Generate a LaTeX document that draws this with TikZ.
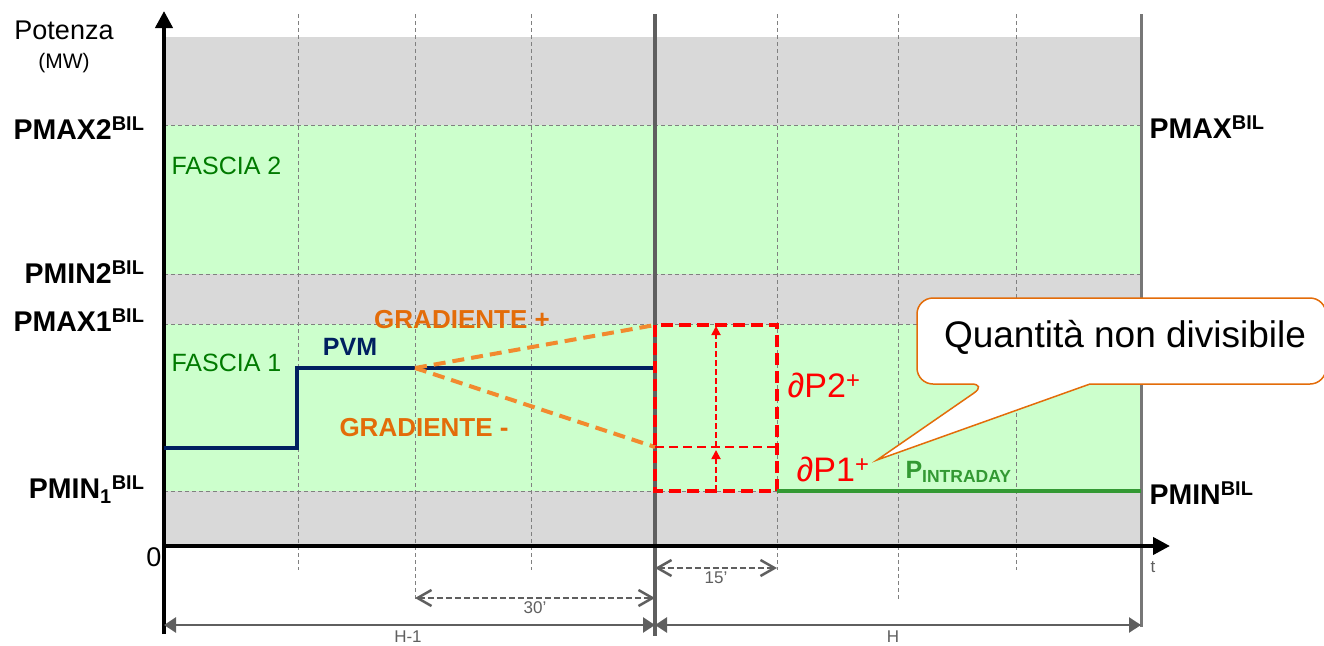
\documentclass[tikz,border=0pt]{standalone}
\usepackage{fontspec}
\setmainfont{Liberation Sans}
\usetikzlibrary{arrows.meta}
\definecolor{bandgray}{HTML}{D9D9D9}
\definecolor{bandgreen}{HTML}{CCFFCC}
\definecolor{pvmblue}{HTML}{002060}
\definecolor{gradorange}{HTML}{F28A2E}
\definecolor{gradtext}{HTML}{E36C09}
\definecolor{intraday}{HTML}{339933}
\definecolor{fasciagreen}{HTML}{007A00}
\definecolor{dimgray}{HTML}{5F5F5F}
\definecolor{quotared}{HTML}{FF0000}
\tikzset{
  gridline/.style={gray,line width=1pt,dash pattern=on 4pt off 3pt},
  hourline/.style={dimgray,line width=4pt},
  axis/.style={black,line width=4pt,-{Triangle[length=17pt,width=17pt]}},
  levlab/.style={font=\bfseries\fontsize{28.5}{30}\selectfont},
  fascialab/.style={fasciagreen,font=\fontsize{25}{27}\selectfont},
  gradlab/.style={gradtext,font=\bfseries\fontsize{26}{28}\selectfont},
  dimlab/.style={dimgray,font=\fontsize{17}{19}\selectfont},
  quotalab/.style={quotared,font=\fontsize{34}{36}\selectfont},
  pvm/.style={pvmblue,line width=4.5pt},
  gradient/.style={gradorange,line width=4pt,dash pattern=on 12pt off 7pt},
  quota/.style={quotared,line width=4pt,dash pattern=on 12pt off 6pt},
  quotathin/.style={quotared,line width=2.5pt,dash pattern=on 9pt off 5pt},
  quotaarrow/.style={quotared,line width=1.8pt,dash pattern=on 6pt off 3pt,-{Triangle[length=9pt,width=9pt]}},
  pint/.style={intraday,line width=4.5pt},
  dimdash/.style={dimgray,line width=2.5pt,dash pattern=on 6pt off 3pt,{Straight Barb[length=14pt,width=16pt]}-{Straight Barb[length=14pt,width=16pt]}},
  dimsolid/.style={dimgray,line width=2.5pt,{Triangle[length=12pt,width=15pt]}-{Triangle[length=12pt,width=15pt]}},
  callout/.style={draw=gradtext,fill=white,line width=1.5pt}
}
\begin{document}
\begin{tikzpicture}[x=1pt,y=-1pt]
\useasboundingbox (0,0) rectangle (1324,645);
% fasce
\fill[bandgray] (164,37) rectangle (1141,546);
\fill[bandgreen] (164,125) rectangle (1141,274);
\fill[bandgreen] (164,324) rectangle (1141,491);
% griglia
\foreach \y in {125,274,324,491}
  \draw[gridline] (164,\y) -- (1141,\y);
\foreach \x/\b in {298/570,415/600,531/570,777/570,898/600,1016/570}
  \draw[gridline] (\x,14) -- (\x,\b);
\draw[hourline] (655,14) -- (655,636);
\draw[hourline,line width=3pt,dimgray!85] (1141,14) -- (1141,627);
% assi
\draw[axis] (164,634) -- (164,11);
\draw[axis] (164,546) -- (1170,546);
\node (potenza) at (64,30) {\fontsize{27}{29}\selectfont Potenza};
\node (mw) at (64,63) {\fontsize{21}{23}\selectfont (MW)};
\node (zero) at (154,557) {\fontsize{27}{29}\selectfont 0};
\node[dimlab] (tempo) at (1153,567) {t};
% livelli
\node[levlab,anchor=east] (pmaxdue) at (148,128) {PMAX2\textsuperscript{BIL}};
\node[levlab,anchor=east] (pmindue) at (148,272) {PMIN2\textsuperscript{BIL}};
\node[levlab,anchor=east] (pmaxuno) at (148,320) {PMAX1\textsuperscript{BIL}};
\node[levlab,anchor=east] (pminuno) at (148,490) {PMIN\textsubscript{1}\textsuperscript{BIL}};
\node[levlab,anchor=west] (pmax) at (1146,127) {PMAX\textsuperscript{BIL}};
\node[levlab,anchor=west] (pmin) at (1146,493) {PMIN\textsuperscript{BIL}};
\node[fascialab,anchor=west] (fasciadue) at (168,166) {FASCIA 2};
\node[fascialab,anchor=west] (fasciauno) at (168,363) {FASCIA 1};
% PVM e gradienti
\draw[pvm] (164,448) -| (297,368) -- (655,368);
\node[pvmblue,font=\bfseries\fontsize{25}{27}\selectfont] (pvmlab) at (350,347) {PVM};
\coordinate (gzero) at (415,368);
\draw[gradient] (gzero) -- (655,325);
\draw[gradient] (gzero) -- (655,447);
\node[gradlab] (gradpiu) at (462,320) {GRADIENTE +};
\node[gradlab] (gradmeno) at (424,428) {GRADIENTE -};
% quantita
\draw[quotathin] (655,447) -- (777,447);
\draw[quotaarrow] (716,491) -- (716,450);
\draw[quotaarrow] (716,447) -- (716,326);
\draw[quota] (655,325) rectangle (777,491);
\draw[pint] (777,491) -- (1141,491);
\node[quotalab] (dpdue) at (824,385) {∂P2\textsuperscript{+}};
\node[quotalab] (dpuno) at (833,469) {∂P1\textsuperscript{+}};
\node[intraday,font=\bfseries\fontsize{25}{27}\selectfont,anchor=west] (pintlab) at (902,472) {P\textsubscript{INTRADAY}};
% quote
\draw[dimdash] (415,598) -- (655,598) node[midway,below=-1pt,dimlab] (trenta) {30’};
\draw[dimdash] (655,568) -- (777,568) node[midway,below=-1pt,dimlab] (quindici) {15’};
\draw[dimsolid] (164,625) -- (655,625);
\draw[dimsolid] (655,625) -- (1141,625);
\node[dimlab,inner sep=1pt] (hmeno) at (408,637) {H-1};
\node[dimlab,inner sep=1pt] (hora) at (893,637) {H};
% fumetto
\draw[callout] (987,384) -- (877,460) -- (1090,384) [rounded corners=16pt] -- (1326,384) -- (1326,298) -- (917,298) -- (917,384) -- cycle;
\node[font=\fontsize{37}{39}\selectfont] (callout) at (1125,337) {Quantità non divisibile};
\end{tikzpicture}
\end{document}
